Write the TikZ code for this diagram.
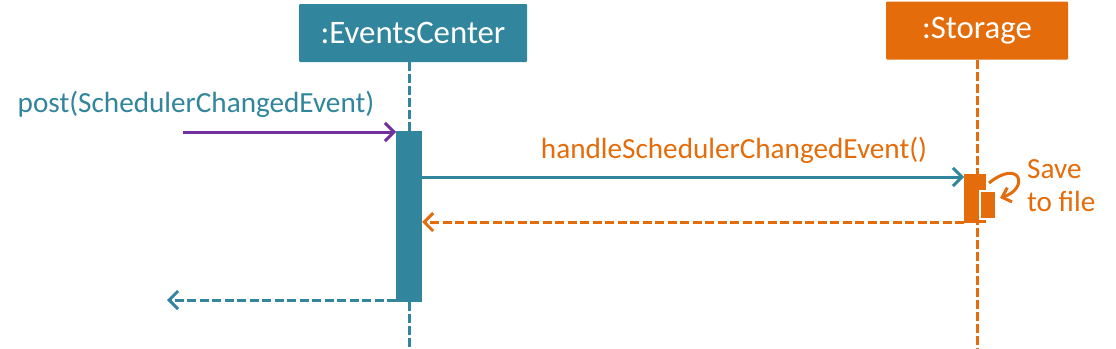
\documentclass[tikz,border=0pt]{standalone}
\usepackage{fontspec}
\setmainfont{Carlito}
\usetikzlibrary{arrows.meta}
\definecolor{teal}{HTML}{31859C}
\definecolor{orng}{HTML}{E46C0A}
\definecolor{purp}{HTML}{7030A0}
\begin{document}
\begin{tikzpicture}[x=1pt,y=-1pt,
  head/.style={draw=none,fill=#1,text=white,minimum height=58pt,inner sep=0pt,font=\fontsize{32.8}{38}\selectfont,rounded corners=1pt},
  lifeline/.style={draw=#1,line width=3pt,dash pattern=on 9pt off 3pt},
  act/.style={fill=#1,draw=none},
  msg/.style={line width=3pt,-{Straight Barb[length=9pt,width=18pt,line width=3pt]}},
  ret/.style={msg,dash pattern=on 9pt off 3.5pt},
  lbl/.style={font=\fontsize{29.2}{34}\selectfont,inner sep=0pt}]
\useasboundingbox (0,0) rectangle (1116,348);
% heads
\node[head=teal,minimum width=228pt] (ec) at (413,33) {:EventsCenter};
\node[head=orng,minimum width=182pt] (st) at (977,30.5) {:Storage};
% lifelines
\coordinate (ecEnd) at (409,348);
\coordinate (stEnd) at (977,348);
\draw[lifeline=teal] (ec.south -| ecEnd) -- (ecEnd);
\draw[lifeline=orng] (st.south -| stEnd) -- (stEnd);
% activation bars
\path[act=teal] (396,131) rectangle (422,302);
\coordinate (ecTop) at (396,132);
\coordinate (ecR) at (422,177);
\coordinate (ecRr) at (422,222);
\coordinate (ecBot) at (396,300);
\path[act=orng] (964,174) rectangle (986,223);
\draw[fill=orng,draw=white,line width=1.5pt] (980,191) rectangle (996,219);
\coordinate (stL) at (964,177);
\coordinate (stLr) at (964,222);
% messages
\coordinate (postStart) at (183,132);
\coordinate (retEnd) at (167,300);
\draw[msg,draw=purp] (postStart) -- (ecTop);
\node[lbl,text=teal] (postLbl) at (196,104) {post(SchedulerChangedEvent)};
\draw[msg,draw=teal] (ecR) -- (stL);
\node[lbl,text=orng] (hLbl) at (734,150) {handleSchedulerChangedEvent()};
\draw[ret,draw=orng] (stLr) -- (ecRr);
\draw[ret,draw=teal] (ecBot) -- (retEnd);
% self call
\coordinate (selfA) at (989,183);
\coordinate (selfB) at (1000,198);
\draw[line width=3pt,draw=orng,-{Straight Barb[length=8pt,width=15pt,line width=3pt]}] (selfA) .. controls (1020,158) and (1030,188) .. (selfB);
\node[lbl,text=orng,align=left,anchor=west,font=\fontsize{29.2}{33}\selectfont] (save) at (1027,186) {Save\\to file};
\end{tikzpicture}
\end{document}
